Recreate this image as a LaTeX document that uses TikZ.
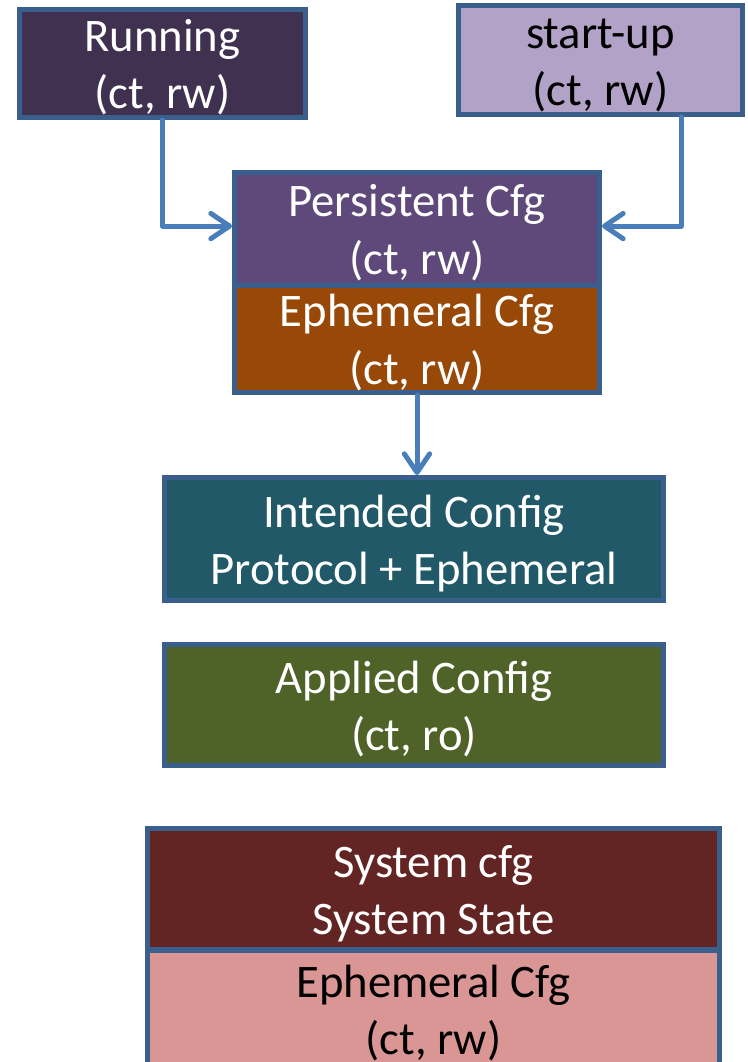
\documentclass[tikz,border=0pt]{standalone}
\usepackage{fontspec}
\setmainfont{Carlito}
\usetikzlibrary{arrows.meta}
\definecolor{edge}{HTML}{3A5F8C}
\definecolor{link}{HTML}{4A7EBB}
\definecolor{runfill}{HTML}{403151}
\definecolor{startfill}{HTML}{B3A2C7}
\definecolor{persfill}{HTML}{5F497A}
\definecolor{ephfill}{HTML}{984807}
\definecolor{intfill}{HTML}{215968}
\definecolor{appfill}{HTML}{4F6228}
\definecolor{sysfill}{HTML}{632523}
\definecolor{pinkfill}{HTML}{D99694}
% two centred lines, first one pushed down a little
\newcommand{\twoline}[2]{\begin{tabular}{@{}c@{}}\rule{0pt}{38pt}#1\\#2\end{tabular}}

\begin{document}
\begin{tikzpicture}[x=0.75pt, y=-0.75pt,
  cfgbox/.style={draw=edge, line width=3.75pt, rectangle,
    inner xsep=0pt, inner ysep=-12pt, font=\fontsize{35}{43}\selectfont},
  arr/.style={draw=link, line width=3.75pt, line join=round, line cap=round,
    -{Straight Barb[length=14pt, width=19pt, round]}}]
\useasboundingbox (0,0) rectangle (747,1062);

\node[cfgbox, fill=runfill, text=white, minimum width=214.5pt, minimum height=81pt] (run) at (162.5,63.5) {\twoline{Running}{(ct, rw)}};
\node[cfgbox, fill=startfill, text=black, minimum width=213pt, minimum height=81.75pt] (start) at (600.5,60) {\twoline{start-up}{(ct, rw)}};

\node[cfgbox, fill=persfill, text=white, minimum width=273.75pt, minimum height=84.4pt] (pers) at (417,228.75) {\twoline{Persistent Cfg}{(ct, rw)}};
\node[cfgbox, fill=ephfill, text=white, minimum width=273.75pt, minimum height=80.6pt] (eph) at (417,338.75) {\twoline{Ephemeral Cfg}{(ct, rw)}};

\node[cfgbox, fill=intfill, text=white, minimum width=374.25pt, minimum height=92.25pt] (intended) at (414,539) {\twoline{Intended Config}{Protocol + Ephemeral}};
\node[cfgbox, fill=appfill, text=white, minimum width=374.25pt, minimum height=90.75pt] (applied) at (414,705) {\twoline{Applied Config}{(ct, ro)}};

\node[cfgbox, fill=sysfill, text=white, minimum width=429pt, minimum height=91.1pt] (sys) at (433.5,889.25) {\twoline{System cfg}{System State}};
\node[cfgbox, fill=pinkfill, text=black, minimum width=429pt, minimum height=88.5pt] (syseph) at (433.5,1009) {\twoline{Ephemeral Cfg}{(ct, rw)}};

% arrows into the datastore
\draw[arr] (run.south) |- ([yshift=2pt]pers.west);
\draw[arr] ([xshift=60.4pt]start.south) |- ([yshift=2pt]pers.east);
\draw[arr] (eph.south) -- (eph.south |- intended.north);
\end{tikzpicture}
\end{document}
